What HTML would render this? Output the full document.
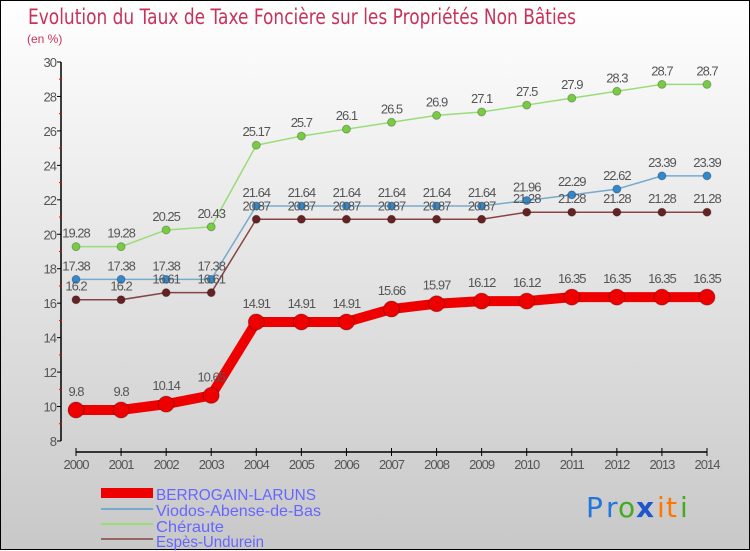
<!DOCTYPE html>
<html><head><meta charset="utf-8">
<style>
html,body{margin:0;padding:0;}
body{width:750px;height:550px;overflow:hidden;font-family:"Liberation Sans","DejaVu Sans",sans-serif;}
#wrap{position:relative;width:748px;height:548px;border:1px solid #000;background:linear-gradient(#ffffff,#c8c8c8);}
svg{position:absolute;left:0;top:0;}
</style></head>
<body>
<div id="wrap">
<svg id="chart" width="750" height="550">
<text x="27" y="23" font-size="21" fill="#c8325a" font-family="DejaVu Sans,sans-serif" textLength="548" lengthAdjust="spacingAndGlyphs">Evolution du Taux de Taxe Foncière sur les Propriétés Non Bâties</text>
<text x="26" y="42" font-size="12" fill="#c8325a">(en %)</text>
<g id="axes"></g><g id="series"></g>
<g>
<rect x="100" y="487" width="52" height="10" fill="#ee0000"/>
<text x="155" y="499" font-size="16" fill="#6666ff" textLength="160" lengthAdjust="spacingAndGlyphs">BERROGAIN-LARUNS</text>
<rect x="100" y="507" width="52" height="2" fill="#77aacc"/>
<text x="155" y="515" font-size="16" fill="#6666ff" textLength="165" lengthAdjust="spacingAndGlyphs">Viodos-Abense-de-Bas</text>
<rect x="100" y="522" width="52" height="2" fill="#99dd77"/>
<text x="155" y="531" font-size="16" fill="#6666ff" textLength="68" lengthAdjust="spacingAndGlyphs">Chéraute</text>
<rect x="100" y="537" width="52" height="2" fill="#996666"/>
<text x="155" y="546" font-size="16" fill="#6666ff" textLength="108" lengthAdjust="spacingAndGlyphs">Espès-Undurein</text>
</g>
<g font-size="28" font-family="DejaVu Sans,sans-serif">
<text x="585" y="516" fill="#2277dd">P</text><text x="605" y="516" fill="#2277dd">r</text>
<text x="617" y="516" fill="#44aa22">o</text><text x="635" y="516" fill="#2255cc" font-weight="bold">x</text>
<text x="656" y="516" fill="#ff7700">i</text><text x="665" y="516" fill="#ff7700">t</text><text x="679" y="516" fill="#44aa22">i</text>
</g>
</svg>
</div>
<script>
const years=[2000,2001,2002,2003,2004,2005,2006,2007,2008,2009,2010,2011,2012,2013,2014];
const berrogain=[9.8,9.8,10.14,10.65,14.91,14.91,14.91,15.66,15.97,16.12,16.12,16.35,16.35,16.35,16.35];
const viodos=[17.38,17.38,17.38,17.38,21.64,21.64,21.64,21.64,21.64,21.64,21.96,22.29,22.62,23.39,23.39];
const cheraute=[19.28,19.28,20.25,20.43,25.17,25.7,26.1,26.5,26.9,27.1,27.5,27.9,28.3,28.7,28.7];
const espes=[16.2,16.2,16.61,16.61,20.87,20.87,20.87,20.87,20.87,20.87,21.28,21.28,21.28,21.28,21.28];
const yTicks=[8,10,12,14,16,18,20,22,24,26,28,30];

const NS="http://www.w3.org/2000/svg";
const xs=i=>75+i*(706-75)/(years.length-1);
const ys=v=>440-(v-8)*(440-61)/22;
function mk(tag,attrs,parent){const e=document.createElementNS(NS,tag);for(const k in attrs)e.setAttribute(k,attrs[k]);parent.appendChild(e);return e;}
const axes=document.getElementById('axes'),ser=document.getElementById('series');
let yl=mk('line',{x1:60,y1:61,x2:60,y2:440,stroke:'#000','stroke-width':1.5},axes);


yTicks.forEach(t=>{
  const y=ys(t);
  const tk=mk('line',{x1:56,y1:y,x2:60,y2:y,stroke:'#000'},axes);
  
  
  const lb=mk('text',{x:55,y:y+5,'font-size':13,fill:'#555','text-anchor':'end','letter-spacing':'-1'},axes);
  lb.textContent=t;
  
  
  if(t<30){const m=mk('line',{x1:58,y1:ys(t+1),x2:61,y2:ys(t+1),stroke:'#e00'},axes);
  
  }
});
let xl=mk('line',{x1:xs(0),y1:451,x2:xs(years.length-1),y2:451,stroke:'#000','stroke-width':1.5},axes);


years.forEach((yr,i)=>{
  const x=xs(i);
  const tk=mk('line',{x1:x,y1:447,x2:x,y2:455,stroke:'#000'},axes);
  
  
  const lb=mk('text',{x:x,y:468,'font-size':13,fill:'#555','text-anchor':'middle','letter-spacing':'-1'},axes);
  lb.textContent=yr;
  
  
});
function draw(vals,name,color,dot,w,r,off){
  const g=mk('g',{},ser);
  
  
  const pl=mk('polyline',{points:vals.map((v,i)=>xs(i)+','+ys(v)).join(' '),fill:'none',stroke:color,'stroke-width':w,'stroke-linejoin':'round'},g);
  
  
  vals.forEach((v,i)=>{
    const c=mk('circle',{cx:xs(i),cy:ys(v),r:r,fill:dot,stroke:'rgba(0,0,0,0.25)'},g);
    
    
    const t=mk('text',{x:xs(i),y:ys(v)-off,'font-size':13,fill:'#555','text-anchor':'middle','letter-spacing':'-1'},g);
    t.textContent=v;
    
    
  });
}
draw(cheraute,'cheraute','#99dd77','#77cc44',1.5,4,9);
draw(viodos,'viodos','#77aacc','#3388cc',1.5,4,9);
draw(espes,'espes','#884444','#662222',1.5,4,9);
draw(berrogain,'berrogain','#ee0000','#ee0000',10,8,14);
</script>
</body></html>
